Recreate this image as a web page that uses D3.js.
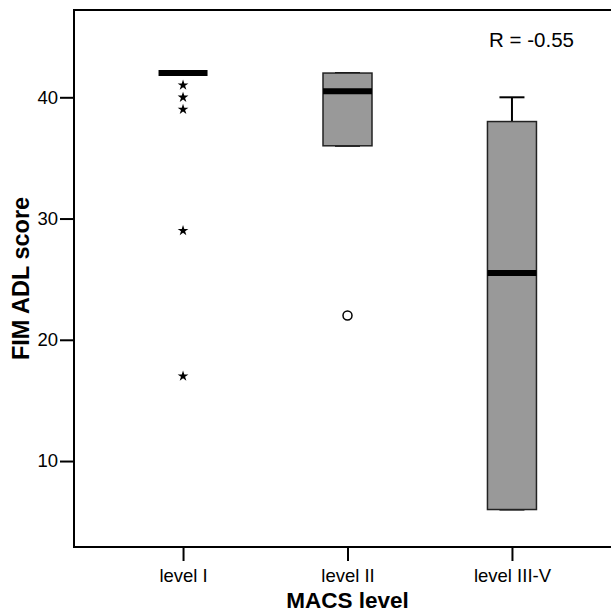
<!DOCTYPE html>
<html>
<head>
<meta charset="utf-8">
<script src="https://cdn.jsdelivr.net/npm/d3@7"></script>
<style>
  body { margin: 0; background: #fff; }
  svg { display: block; font-family: "Liberation Sans", Arial, sans-serif; }
</style>
</head>
<body>
<div id="chart"></div>
<script>
// box plot values
const categories = ["level I", "level II", "level III-V"]
const whiskerLow = [42, 36, 6]
const q1 = [42, 36, 6]
const median = [42, 40.5, 25.5]
const q3 = [42, 42, 38]
const whiskerHigh = [42, 42, 40]
// extremes (asterisks) and outliers (circles)
const extremeCats = ["level I", "level I", "level I", "level I", "level I"]
const extremeVals = [41, 40, 39, 29, 17]
const outlierCats = ["level II"]
const outlierVals = [22]
const yTicks = [10, 20, 30, 40]
const rLabel = "R = -0.55"

const width = 611, height = 615
const mLeft = 74, mTop = 10, mBottom = 547, mRight = 621

const svg = d3.select("#chart").append("svg")
    .attr("width", width)
    .attr("height", height)

const x = d3.scalePoint()
    .domain(categories)
    .range([mLeft, mRight])
    .padding(0.663)

const y = d3.scaleLinear()
    .domain([2.91, 47.2])
    .range([mBottom, mTop])

const boxW = 49

const boxes = categories.map((c, i) => ({
    cat: c, lo: whiskerLow[i], q1: q1[i], med: median[i], q3: q3[i], hi: whiskerHigh[i]
}))

// frame (right side runs off the picture)
svg.append("path")
    .attr("d", `M${mRight},${mTop}H${mLeft}V${mBottom}H${mRight}`)
    .attr("fill", "none")
    .attr("stroke", "#000")
    .attr("stroke-width", 2)

// y axis
const yAxis = svg.append("g")
    .attr("transform", `translate(${mLeft},0)`)
    .call(d3.axisLeft(y).tickValues(yTicks).tickSize(14).tickPadding(2))
yAxis.select(".domain").remove()
yAxis.selectAll("line").attr("stroke", "#000").attr("stroke-width", 2)
yAxis.selectAll("text").attr("font-size", 18.5).attr("fill", "#000")
    .attr("font-family", "Liberation Sans, Arial, sans-serif")

// x axis
const xAxis = svg.append("g")
    .attr("transform", `translate(0,${mBottom})`)
    .call(d3.axisBottom(x).tickSize(14).tickPadding(8))
xAxis.select(".domain").remove()
xAxis.selectAll("line").attr("stroke", "#000").attr("stroke-width", 2)
xAxis.selectAll("text").attr("font-size", 18.5).attr("fill", "#000")
    .attr("font-family", "Liberation Sans, Arial, sans-serif")

// axis titles
svg.append("text")
    .attr("x", x("level II"))
    .attr("y", 608)
    .attr("text-anchor", "middle")
    .attr("font-size", 22.5)
    .attr("font-weight", "bold")
    .text("MACS level")

svg.append("text")
    .attr("transform", `translate(29,${(mTop + mBottom) / 2}) rotate(-90)`)
    .attr("text-anchor", "middle")
    .attr("font-size", 23.5)
    .attr("font-weight", "bold")
    .text("FIM ADL score")

// whiskers and boxes
const g = svg.append("g")
const box = g.selectAll("g.box").data(boxes).join("g").attr("class", "box")

box.append("line")
    .attr("x1", d => x(d.cat)).attr("x2", d => x(d.cat))
    .attr("y1", d => y(d.hi)).attr("y2", d => y(d.q3))
    .attr("stroke", "#000").attr("stroke-width", 2)
box.append("line")
    .attr("x1", d => x(d.cat)).attr("x2", d => x(d.cat))
    .attr("y1", d => y(d.lo)).attr("y2", d => y(d.q1))
    .attr("stroke", "#000").attr("stroke-width", 2)
box.append("line")
    .attr("x1", d => x(d.cat) - 12.5).attr("x2", d => x(d.cat) + 12.5)
    .attr("y1", d => y(d.hi)).attr("y2", d => y(d.hi))
    .attr("stroke", "#000").attr("stroke-width", 2)
box.append("line")
    .attr("x1", d => x(d.cat) - 12.5).attr("x2", d => x(d.cat) + 12.5)
    .attr("y1", d => y(d.lo)).attr("y2", d => y(d.lo))
    .attr("stroke", "#000").attr("stroke-width", 2)

box.filter(d => d.q3 > d.q1).append("rect")
    .attr("x", d => x(d.cat) - boxW / 2)
    .attr("width", boxW)
    .attr("y", d => y(d.q3))
    .attr("height", d => y(d.q1) - y(d.q3))
    .attr("fill", "#999")
    .attr("stroke", "#222")
    .attr("stroke-width", 1.5)

box.append("line")
    .attr("x1", d => x(d.cat) - boxW / 2).attr("x2", d => x(d.cat) + boxW / 2)
    .attr("y1", d => y(d.med)).attr("y2", d => y(d.med))
    .attr("stroke", "#000").attr("stroke-width", 6)

// extremes as stars
svg.append("g").selectAll("path")
    .data(extremeVals.map((v, i) => ({ cat: extremeCats[i], v })))
    .join("path")
    .attr("transform", d => `translate(${x(d.cat)},${y(d.v)})`)
    .attr("d", d3.symbol(d3.symbolStar, 36))
    .attr("fill", "#000")

// outliers as open circles
svg.append("g").selectAll("circle")
    .data(outlierVals.map((v, i) => ({ cat: outlierCats[i], v })))
    .join("circle")
    .attr("cx", d => x(d.cat))
    .attr("cy", d => y(d.v))
    .attr("r", 4.5)
    .attr("fill", "none")
    .attr("stroke", "#000")
    .attr("stroke-width", 1.5)

svg.append("text")
    .attr("x", 574)
    .attr("y", 47)
    .attr("text-anchor", "end")
    .attr("font-size", 20.5)
    .text(rLabel)
</script>
</body>
</html>
